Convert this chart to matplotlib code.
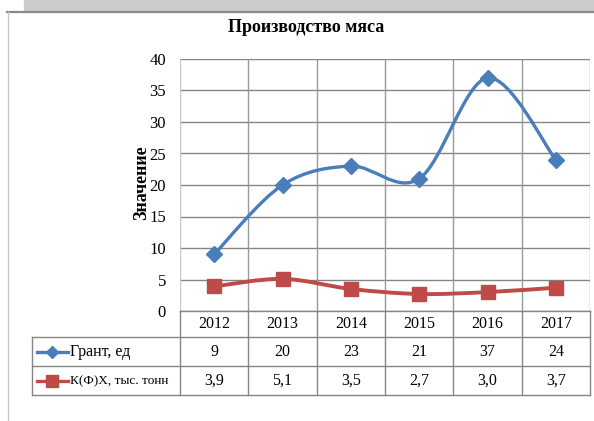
import numpy as np
import matplotlib.pyplot as plt
from matplotlib.path import Path
from matplotlib.patches import PathPatch, Rectangle
from matplotlib.lines import Line2D

plt.rcParams['font.family'] = ['Liberation Serif', 'DejaVu Serif']

# data
years = ["2012", "2013", "2014", "2015", "2016", "2017"]
grant = [9, 20, 23, 21, 37, 24]
kfh = [3.9, 5.1, 3.5, 2.7, 3.0, 3.7]
grant_labels = ["9", "20", "23", "21", "37", "24"]
kfh_labels = ["3,9", "5,1", "3,5", "2,7", "3,0", "3,7"]
series_names = ["Грант, ед", "К(Ф)Х, тыс. тонн"]

blue = "#4A7EBB"
red = "#BE4B48"
grid_c = "#858585"

W, H = 594, 421
fig = plt.figure(figsize=(W / 100, H / 100), dpi=100)


def fx(px):
    return px / W


def fy(py):
    return 1 - py / H


# window decoration
fig.patches.append(Rectangle((fx(24), fy(11)), 1 - fx(24), 11 / H, transform=fig.transFigure,
                             color="#CCCCCC", zorder=0))
fig.add_artist(Line2D([fx(7), 1], [fy(12), fy(12)], color="#8A8A8A", lw=1.6))
fig.add_artist(Line2D([fx(8), fx(8)], [fy(12), 0], color="#C8C8C8", lw=1))

# plot area
L, R, T, B = 180, 590, 59, 311
ax = fig.add_axes([fx(L), fy(B), fx(R) - fx(L), fy(T) - fy(B)])
x = np.arange(len(years))
ax.set_xlim(-0.5, len(years) - 0.5)
ax.set_ylim(0, 40)
ax.set_yticks(range(0, 45, 5))
ax.set_xticks([])
for s in ax.spines.values():
    s.set_visible(False)
ax.tick_params(axis="y", length=0, pad=10, labelsize=12)
for v in range(0, 45, 5):
    ax.axhline(v, color=grid_c, lw=1, zorder=1)
for b in np.arange(-0.5, len(years), 1):
    ax.axvline(b, color="#C8C8C8" if b < 0 else "#999999", lw=1, zorder=1)


def smooth_path(xs, ys):
    # excel-like smoothed line (bezier through the points)
    pts = np.column_stack([xs, ys]).astype(float)
    n = len(pts)
    verts = [pts[0]]
    codes = [Path.MOVETO]
    for i in range(n - 1):
        p0 = pts[max(i - 1, 0)]
        p1 = pts[i]
        p2 = pts[i + 1]
        p3 = pts[min(i + 2, n - 1)]
        c1 = p1 + (p2 - p0) / 6
        c2 = p2 - (p3 - p1) / 6
        verts += [c1, c2, p2]
        codes += [Path.CURVE4] * 3
    return Path(verts, codes)


ax.add_patch(PathPatch(smooth_path(x, grant), fill=False, edgecolor=blue, lw=2.4, zorder=3))
ax.add_patch(PathPatch(smooth_path(x, kfh), fill=False, edgecolor=red, lw=2.8, zorder=3))
ax.plot(x, grant, linestyle="none", marker="D", ms=8.5, color=blue, zorder=4)
ax.plot(x, kfh, linestyle="none", marker="s", ms=10, color=red, zorder=4)

ax.set_ylabel("Значение", fontsize=13, fontweight="bold")
ax.yaxis.set_label_coords(-0.072, 0.51)

fig.text(fx(306), fy(28), "Производство мяса", ha="center", va="center",
         fontsize=13, fontweight="bold")

# data table under the chart
TL, TB = 32, 395
rows_y = [311, 337, 366, 395]
fig.add_artist(Line2D([fx(L), fx(R)], [fy(rows_y[0])] * 2, color=grid_c, lw=1))
for ry in rows_y[1:]:
    fig.add_artist(Line2D([fx(TL), fx(R)], [fy(ry)] * 2, color=grid_c, lw=1))
fig.add_artist(Line2D([fx(TL), fx(TL)], [fy(rows_y[1]), fy(TB)], color=grid_c, lw=1))
colw = (R - L) / len(years)
for i in range(len(years) + 1):
    cx = L + i * colw
    fig.add_artist(Line2D([fx(cx)] * 2, [fy(rows_y[0]), fy(TB)], color=grid_c, lw=1))

for i, yr in enumerate(years):
    cx = L + (i + 0.5) * colw
    fig.text(fx(cx), fy(324), yr, ha="center", va="center", fontsize=11.5)
    fig.text(fx(cx), fy(352), grant_labels[i], ha="center", va="center", fontsize=11.5)
    fig.text(fx(cx), fy(381), kfh_labels[i], ha="center", va="center", fontsize=11.5)

for ry, name, col, mk, ms, fs in [(352, series_names[0], blue, "D", 6, 11.5),
                                  (381, series_names[1], red, "s", 8, 9.5)]:
    fig.add_artist(Line2D([fx(37), fx(68)], [fy(ry)] * 2, color=col, lw=2.4))
    fig.add_artist(Line2D([fx(52)], [fy(ry)], color=col, marker=mk, ms=ms, linestyle="none"))
    fig.text(fx(70), fy(ry), name, ha="left", va="center", fontsize=fs)

fig.savefig("out.png", dpi=100)
